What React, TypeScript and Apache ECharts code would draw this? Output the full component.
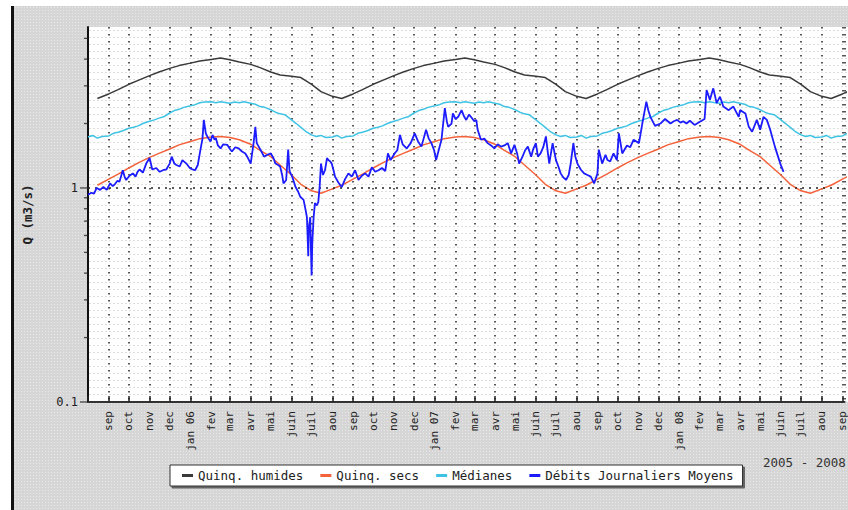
import React, { useEffect, useRef } from 'react';
import * as echarts from 'echarts';

// ---------- tick labels ----------
const MONTH_LABELS = ['jan', 'fev', 'mar', 'avr', 'mai', 'juin', 'juil', 'aou', 'sep', 'oct', 'nov', 'dec'];
const Y_MAJOR_TICKS = [0.1, 1];
const Y_MINOR_TICKS = [0.2, 0.3, 0.4, 0.5, 0.6, 0.7, 0.8, 0.9, 2, 3, 4, 5];
const SERIES_NAMES = ['Quinq. humides', 'Quinq. secs', 'Médianes', 'Débits Journaliers Moyens'];
const PERIOD_LABEL = '2005 - 2008';
const Y_NAME = 'Q (m3/s)';

// ---------- axis range ----------
const X_START = '2005-08-01';
const X_END = '2008-09-04';
const Y_MIN = 0.1;
const Y_MAX = 5.65;

// ---------- climatological annual cycles (same every year) ----------
const HUMIDES_DAYS = ['01-01', '01-15', '02-01', '02-15', '03-01', '03-15', '04-01', '04-15', '05-01', '05-15', '06-01', '06-15', '07-01', '07-15', '08-01', '08-15', '09-01', '09-15', '10-01', '10-15', '11-01', '11-15', '12-01', '12-15'];
const HUMIDES_VALUES = [3.83, 3.92, 3.98, 4.05, 3.97, 3.88, 3.78, 3.65, 3.48, 3.37, 3.33, 3.28, 3.05, 2.82, 2.68, 2.62, 2.75, 2.88, 3.05, 3.18, 3.35, 3.48, 3.62, 3.73];

const SECS_DAYS = ['01-01', '01-15', '02-01', '02-15', '03-01', '03-15', '04-01', '04-15', '05-01', '05-15', '06-01', '06-15', '07-01', '07-15', '08-01', '08-15', '09-01', '09-15', '10-01', '10-15', '11-01', '11-15', '12-01', '12-15'];
const SECS_VALUES = [1.65, 1.70, 1.73, 1.74, 1.72, 1.68, 1.60, 1.50, 1.40, 1.28, 1.15, 1.04, 0.97, 0.945, 0.99, 1.03, 1.10, 1.16, 1.24, 1.31, 1.39, 1.45, 1.52, 1.59];

const MEDIANES_DAYS = ['01-01', '01-08', '01-15', '01-22', '02-01', '02-08', '02-15', '02-22', '03-01', '03-08', '03-15', '03-22', '04-01', '04-08', '04-15', '04-22', '05-01', '05-08', '05-15', '05-22', '06-01', '06-08', '06-15', '06-22', '07-01', '07-08', '07-15', '07-22', '08-01', '08-08', '08-15', '08-22', '09-01', '09-08', '09-15', '09-22', '10-01', '10-08', '10-15', '10-22', '11-01', '11-08', '11-15', '11-22', '12-01', '12-08', '12-15', '12-22'];
const MEDIANES_VALUES = [2.42, 2.45, 2.50, 2.52, 2.53, 2.50, 2.53, 2.51, 2.49, 2.52, 2.50, 2.53, 2.49, 2.46, 2.40, 2.38, 2.32, 2.26, 2.22, 2.20, 2.08, 2.00, 1.92, 1.84, 1.77, 1.74, 1.76, 1.72, 1.73, 1.76, 1.71, 1.74, 1.75, 1.80, 1.82, 1.85, 1.90, 1.92, 1.95, 2.00, 2.05, 2.08, 2.12, 2.15, 2.24, 2.30, 2.33, 2.38];

const CLIMATE_YEARS = [2005, 2006, 2007, 2008];
const HUMIDES_START = '2005-08-15';
const SECS_START = '2005-08-15';
const MEDIANES_START = '2005-08-01';
const CLIMATE_END = '2008-09-15';

const FLOW_DATES = [
  '2005-08-01', '2005-08-06', '2005-08-10', '2005-08-14', '2005-08-19', '2005-08-24', '2005-08-29', '2005-09-03', '2005-09-07', '2005-09-10',
  '2005-09-14', '2005-09-17', '2005-09-22', '2005-09-25', '2005-09-27', '2005-10-02', '2005-10-07', '2005-10-11', '2005-10-14', '2005-10-17',
  '2005-10-22', '2005-10-27', '2005-11-01', '2005-11-05', '2005-11-11', '2005-11-16', '2005-11-21', '2005-11-26', '2005-12-01', '2005-12-04',
  '2005-12-08', '2005-12-11', '2005-12-16', '2005-12-20', '2005-12-26', '2005-12-31', '2006-01-04', '2006-01-08', '2006-01-12', '2006-01-15',
  '2006-01-19', '2006-01-21', '2006-01-24', '2006-01-27', '2006-01-31', '2006-02-03', '2006-02-06', '2006-02-08', '2006-02-11', '2006-02-15',
  '2006-02-19', '2006-02-25', '2006-03-01', '2006-03-04', '2006-03-09', '2006-03-14', '2006-03-19', '2006-03-24', '2006-03-28', '2006-04-01',
  '2006-04-05', '2006-04-08', '2006-04-10', '2006-04-13', '2006-04-17', '2006-04-21', '2006-04-26', '2006-05-01', '2006-05-05', '2006-05-08',
  '2006-05-12', '2006-05-15', '2006-05-18', '2006-05-20', '2006-05-24', '2006-05-27', '2006-05-29', '2006-06-02', '2006-06-07', '2006-06-11',
  '2006-06-14', '2006-06-19', '2006-06-22', '2006-06-24', '2006-06-25', '2006-06-26', '2006-06-27', '2006-06-29', '2006-06-30', '2006-07-01',
  '2006-07-02', '2006-07-04', '2006-07-06', '2006-07-09', '2006-07-11', '2006-07-13', '2006-07-15', '2006-07-18', '2006-07-21', '2006-07-24',
  '2006-07-26', '2006-07-29', '2006-07-31', '2006-08-03', '2006-08-05', '2006-08-10', '2006-08-15', '2006-08-20', '2006-08-25', '2006-08-30',
  '2006-09-04', '2006-09-09', '2006-09-14', '2006-09-19', '2006-09-24', '2006-09-29', '2006-10-04', '2006-10-09', '2006-10-14', '2006-10-19',
  '2006-10-23', '2006-10-27', '2006-11-02', '2006-11-06', '2006-11-10', '2006-11-14', '2006-11-20', '2006-11-26', '2006-12-02', '2006-12-07',
  '2006-12-12', '2006-12-19', '2006-12-23', '2006-12-27', '2006-12-31', '2007-01-03', '2007-01-08', '2007-01-11', '2007-01-16', '2007-01-19',
  '2007-01-21', '2007-01-26', '2007-01-28', '2007-02-01', '2007-02-05', '2007-02-10', '2007-02-14', '2007-02-17', '2007-02-21', '2007-02-24',
  '2007-03-01', '2007-03-04', '2007-03-06', '2007-03-11', '2007-03-16', '2007-03-21', '2007-03-26', '2007-03-31', '2007-04-05', '2007-04-10',
  '2007-04-15', '2007-04-20', '2007-04-25', '2007-04-30', '2007-05-04', '2007-05-07', '2007-05-12', '2007-05-16', '2007-05-20', '2007-05-25',
  '2007-05-28', '2007-06-01', '2007-06-04', '2007-06-08', '2007-06-12', '2007-06-16', '2007-06-19', '2007-06-21', '2007-06-26', '2007-06-29',
  '2007-07-01', '2007-07-05', '2007-07-08', '2007-07-12', '2007-07-16', '2007-07-20', '2007-07-23', '2007-07-27', '2007-07-30', '2007-08-02',
  '2007-08-07', '2007-08-12', '2007-08-17', '2007-08-22', '2007-08-27', '2007-09-01', '2007-09-03', '2007-09-08', '2007-09-13', '2007-09-16',
  '2007-09-20', '2007-09-25', '2007-09-30', '2007-10-03', '2007-10-08', '2007-10-15', '2007-10-20', '2007-10-25', '2007-11-02', '2007-11-07',
  '2007-11-13', '2007-11-16', '2007-11-19', '2007-11-26', '2007-12-04', '2007-12-11', '2007-12-19', '2007-12-24', '2007-12-29', '2008-01-03',
  '2008-01-07', '2008-01-12', '2008-01-17', '2008-01-24', '2008-02-01', '2008-02-08', '2008-02-11', '2008-02-16', '2008-02-21', '2008-02-26',
  '2008-03-02', '2008-03-07', '2008-03-15', '2008-03-22', '2008-03-30', '2008-04-01', '2008-04-09', '2008-04-14', '2008-04-19', '2008-04-26',
  '2008-05-01', '2008-05-06', '2008-05-11', '2008-05-16', '2008-05-23', '2008-05-31', '2008-06-05',
];
const FLOW_VALUES = [
  0.93, 0.95, 0.94, 1.00, 0.98, 1.01, 0.98, 1.05, 1.02, 1.04,
  1.08, 1.07, 1.21, 1.12, 1.09, 1.14, 1.17, 1.13, 1.19, 1.22,
  1.18, 1.30, 1.38, 1.22, 1.24, 1.19, 1.21, 1.22, 1.30, 1.40,
  1.30, 1.28, 1.26, 1.35, 1.30, 1.24, 1.22, 1.21, 1.28, 1.45,
  1.70, 2.08, 1.80, 1.72, 1.65, 1.77, 1.68, 1.71, 1.58, 1.53,
  1.60, 1.59, 1.52, 1.48, 1.55, 1.53, 1.48, 1.45, 1.38, 1.30,
  1.59, 1.93, 1.62, 1.56, 1.48, 1.40, 1.43, 1.45, 1.38, 1.30,
  1.28, 1.26, 1.15, 1.05, 1.09, 1.51, 1.20, 1.13, 1.01, 0.96,
  0.91, 0.88, 0.79, 0.73, 0.60, 0.48, 0.66, 0.73, 0.52, 0.39,
  0.55, 0.73, 0.85, 0.83, 0.86, 1.01, 1.30, 1.15, 1.21, 1.38,
  1.35, 1.33, 1.30, 1.20, 1.13, 1.06, 1.01, 1.10, 1.17, 1.13,
  1.21, 1.09, 1.14, 1.17, 1.13, 1.25, 1.19, 1.21, 1.24, 1.20,
  1.45, 1.35, 1.45, 1.50, 1.77, 1.60, 1.53, 1.62, 1.80, 1.65,
  1.56, 1.87, 1.70, 1.62, 1.50, 1.35, 1.55, 1.68, 2.36, 2.05,
  1.93, 2.00, 2.23, 2.10, 2.15, 2.31, 2.15, 2.08, 2.20, 2.15,
  2.05, 2.08, 1.87, 1.68, 1.70, 1.62, 1.58, 1.53, 1.60, 1.56,
  1.58, 1.62, 1.45, 1.59, 1.45, 1.30, 1.40, 1.50, 1.56, 1.40,
  1.52, 1.62, 1.40, 1.45, 1.55, 1.74, 1.45, 1.30, 1.62, 1.45,
  1.35, 1.25, 1.17, 1.12, 1.09, 1.15, 1.30, 1.62, 1.40, 1.30,
  1.22, 1.17, 1.15, 1.13, 1.05, 1.17, 1.51, 1.30, 1.43, 1.35,
  1.33, 1.45, 1.35, 1.80, 1.45, 1.58, 1.55, 1.68, 1.62, 2.00,
  2.53, 2.30, 2.15, 1.95, 2.00, 2.10, 2.00, 2.05, 2.08, 2.02,
  2.05, 2.00, 2.06, 1.97, 2.04, 2.10, 2.87, 2.58, 2.92, 2.49,
  2.67, 2.40, 2.31, 2.40, 2.15, 2.31, 2.23, 1.93, 1.83, 2.08,
  1.87, 2.15, 2.08, 1.87, 1.56, 1.30, 1.19,
];

// ---------- helpers ----------
const toUTC = (s: string) => Date.UTC(+s.slice(0, 4), +s.slice(5, 7) - 1, +s.slice(8, 10));

function expandCycle(days: string[], values: number[], start: string, end: string): [number, number][] {
  const t0 = toUTC(start);
  const t1 = toUTC(end);
  const out: [number, number][] = [];
  CLIMATE_YEARS.forEach((y) => {
    days.forEach((md, i) => {
      const t = toUTC(`${y}-${md}`);
      if (t >= t0 && t <= t1) out.push([t, values[i]]);
    });
  });
  return out.sort((a, b) => a[0] - b[0]);
}

const FONT = '"DejaVu Sans Mono", monospace';
const DAY = 86400000;

export default function App() {
  const ref = useRef<HTMLDivElement>(null);

  useEffect(() => {
    if (!ref.current) return;
    const chart = echarts.init(ref.current, undefined, { renderer: 'svg' });
    const xMin = toUTC(X_START);
    const xMax = toUTC(X_END);
    const flow = FLOW_DATES.map((d, i) => [toUTC(d), FLOW_VALUES[i]]);

    chart.setOption({
      animation: false,
      useUTC: true,
      textStyle: { fontFamily: FONT },
      grid: { left: 88, top: 27, right: 0, bottom: 108, containLabel: false },
      legend: {
        data: SERIES_NAMES,
        left: 170,
        top: 465,
        orient: 'horizontal',
        icon: 'rect',
        itemWidth: 11,
        itemHeight: 3,
        itemGap: 17,
        padding: [4, 9, 4, 12],
        backgroundColor: '#ffffff',
        borderColor: '#333333',
        borderWidth: 1,
        shadowColor: 'rgba(0,0,0,0.55)',
        shadowBlur: 1,
        shadowOffsetX: 2,
        shadowOffsetY: 2,
        selectedMode: false,
        textStyle: { fontFamily: FONT, fontSize: 12.5, color: '#222' },
      },
      graphic: [
        {
          type: 'text',
          left: 763,
          top: 456,
          style: { text: PERIOD_LABEL, font: `12.5px ${FONT}`, fill: '#333' },
        },
      ],
      xAxis: {
        type: 'time',
        min: xMin,
        max: xMax,
        splitNumber: 40,
        minInterval: 28 * DAY,
        maxInterval: 31 * DAY,
        axisLine: { show: true, lineStyle: { color: '#333', width: 2 } },
        axisTick: { show: true, inside: true, length: 6, lineStyle: { color: '#222', width: 1.5 } },
        axisLabel: {
          rotate: 90,
          margin: 9,
          fontSize: 11,
          color: '#222',
          fontFamily: FONT,
          showMinLabel: false,
          formatter: (v: number) => {
            if (v === xMin) return '';
            const d = new Date(v);
            if (d.getUTCDate() !== 1 || d.getUTCHours() !== 0) return '';
            const m = d.getUTCMonth();
            if (m === 0) return `${MONTH_LABELS[0]} ${String(d.getUTCFullYear()).slice(2)}`;
            return MONTH_LABELS[m];
          },
        },
        splitLine: { show: true, lineStyle: { color: '#222', width: 1.5, type: [1.5, 5.5] } },
      },
      yAxis: {
        type: 'log',
        logBase: 10,
        min: Y_MIN,
        max: Y_MAX,
        name: Y_NAME,
        nameLocation: 'middle',
        nameGap: 54,
        nameRotate: 90,
        nameTextStyle: { fontFamily: FONT, fontSize: 12.5, fontWeight: 'bold', color: '#222' },
        axisLine: { show: true, lineStyle: { color: '#111', width: 2 } },
        axisTick: { show: false },
        axisLabel: {
          margin: 10,
          fontSize: 12,
          color: '#222',
          fontFamily: FONT,
          showMaxLabel: false,
          formatter: (v: number) => {
            const hit = Y_MAJOR_TICKS.find((t) => Math.abs(t - v) < 1e-9);
            return hit === undefined ? '' : String(hit);
          },
        },
        splitLine: { show: false },
      },
      series: [
        {
          name: SERIES_NAMES[0],
          type: 'line',
          data: expandCycle(HUMIDES_DAYS, HUMIDES_VALUES, HUMIDES_START, CLIMATE_END),
          showSymbol: false,
          color: '#3a3a3a',
          lineStyle: { width: 1.5, color: '#3a3a3a' },
        },
        {
          name: SERIES_NAMES[1],
          type: 'line',
          data: expandCycle(SECS_DAYS, SECS_VALUES, SECS_START, CLIMATE_END),
          showSymbol: false,
          color: '#f4623a',
          lineStyle: { width: 1.5, color: '#f4623a' },
        },
        {
          name: SERIES_NAMES[2],
          type: 'line',
          data: expandCycle(MEDIANES_DAYS, MEDIANES_VALUES, MEDIANES_START, CLIMATE_END),
          showSymbol: false,
          color: '#3fc3e5',
          lineStyle: { width: 1.5, color: '#3fc3e5' },
        },
        {
          name: SERIES_NAMES[3],
          type: 'line',
          data: flow,
          showSymbol: false,
          color: '#1c1cff',
          lineStyle: { width: 1.8, color: '#1c1cff' },
          z: 5,
          markLine: {
            silent: true,
            symbol: ['none', 'none'],
            label: { show: false },
            lineStyle: { color: '#222', width: 1.5, type: [2, 5] },
            data: [{ yAxis: 1 }],
          },
        },
        {
          name: 'y-major-ticks',
          type: 'scatter',
          data: Y_MAJOR_TICKS.map((v) => [xMin, v]),
          symbol: 'rect',
          symbolSize: [8, 1.3],
          symbolOffset: [-4, 0],
          itemStyle: { color: '#222' },
          clip: false,
          silent: true,
        },
        {
          name: 'y-minor-ticks',
          type: 'scatter',
          data: Y_MINOR_TICKS.map((v) => [xMin, v]),
          symbol: 'rect',
          symbolSize: [4, 1.3],
          symbolOffset: [-2, 0],
          itemStyle: { color: '#222' },
          clip: false,
          silent: true,
        },
      ],
    });
    return () => chart.dispose();
  }, []);

  return (
    <div style={{ position: 'absolute', left: 0, top: 0, width: 848, height: 510, overflow: 'hidden', background: '#ffffff' }}>
      <div
        style={{
          position: 'absolute', left: 14, top: 6, right: 0, bottom: 0,
          backgroundColor: '#d6d6d6',
          backgroundImage: 'radial-gradient(circle, #e8e8e8 0.8px, transparent 1px)',
          backgroundSize: '3px 3px',
        }}
      />
      <div style={{ position: 'absolute', left: 11, top: 6, width: 3, bottom: 0, background: '#111' }} />
      <div
        style={{
          position: 'absolute', left: 88, top: 27, width: 760, height: 375,
          backgroundColor: '#ffffff',
          backgroundImage: 'radial-gradient(circle, #dedede 0.6px, transparent 0.8px)',
          backgroundSize: '4px 7px',
        }}
      />
      <div ref={ref} style={{ position: 'absolute', left: 0, top: 0, width: 848, height: 510 }} />
    </div>
  );
}
